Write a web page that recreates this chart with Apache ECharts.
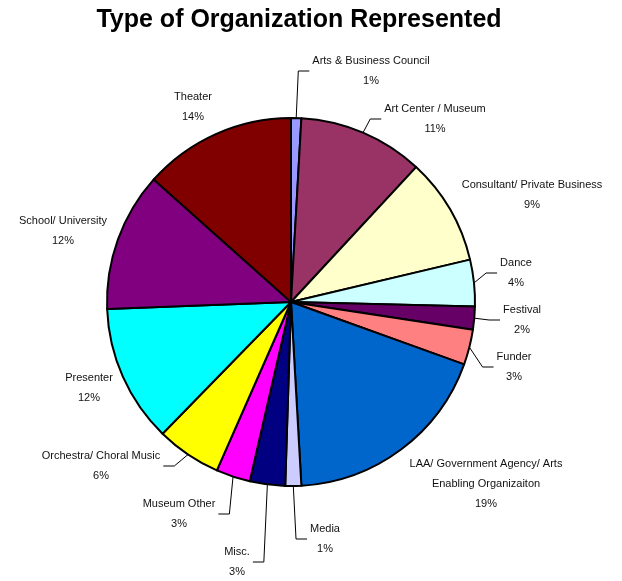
<!DOCTYPE html>
<html><head><meta charset="utf-8">
<script src="https://cdn.jsdelivr.net/npm/echarts@6/dist/echarts.min.js"></script>
<style>html,body{margin:0;padding:0;background:#fff}#c{width:622px;height:581px}</style>
</head><body><div id="c"></div>
<script>
// Categories in clockwise order starting at 12 o'clock
const categories = [
  'Arts & Business Council',
  'Art Center / Museum',
  'Consultant/ Private Business',
  'Dance',
  'Festival',
  'Funder',
  'LAA/ Government Agency/ Arts\nEnabling Organizaiton',
  'Media',
  'Misc.',
  'Museum Other',
  'Orchestra/ Choral Music',
  'Presenter',
  'School/ University',
  'Theater'
];
// Shares (percent)
const values = [0.9, 11.0, 9.4, 4.1, 2.0, 3.1, 18.6, 1.4, 3.1, 3.0, 5.7, 12.1, 12.2, 13.4];
// Percent labels as printed on the chart
const pctLabels = ['1%', '11%', '9%', '4%', '2%', '3%', '19%', '1%', '3%', '3%', '6%', '12%', '12%', '14%'];

// Styles / layout (kept separate from data)
const colors = ['#9999FF', '#993366', '#FFFFCC', '#CCFFFF', '#660066', '#FF8080', '#0066CC',
                '#CCCCFF', '#000080', '#FF00FF', '#FFFF00', '#00FFFF', '#800080', '#800000'];
const labelCenters = [[371, 71], [435, 119], [532, 195], [516, 273], [522, 320], [514, 367],
                      [486, 484], [325, 539], [237, 562], [179, 514], [101, 466], [89, 388],
                      [63, 231], [193, 107]];
const leaderSide = ['left', 'left', null, 'left', 'left', 'left', null, 'left', 'right', 'right', 'right', null, null, null];

const FONT = '"Liberation Sans", Arial, Helvetica, sans-serif';
const chart = echarts.init(document.getElementById('c'), null, {renderer: 'canvas'});
const data = categories.map((name, i) => ({
  name: name,
  value: values[i],
  itemStyle: {color: colors[i]},
  labelLine: {show: !!leaderSide[i]}
}));

chart.setOption({
  animation: false,
  backgroundColor: '#fff',
  title: {
    text: 'Type of Organization Represented',
    left: 299, top: 8, padding: 0, textAlign: 'center',
    textStyle: {fontFamily: FONT, fontSize: 25, fontWeight: 'bold', color: '#000'}
  },
  series: [{
    type: 'pie',
    center: [291, 302],
    radius: 184,
    startAngle: 90,
    clockwise: true,
    avoidLabelOverlap: false,
    emphasis: {disabled: true},
    itemStyle: {borderColor: '#000', borderWidth: 2},
    label: {
      show: true,
      position: 'outside',
      fontFamily: FONT,
      fontSize: 11,
      lineHeight: 20,
      color: '#111',
      align: 'center',
      formatter: p => p.name + '\n' + pctLabels[p.dataIndex]
    },
    labelLine: {show: true, length: 10, length2: 10, lineStyle: {color: '#000', width: 1}},
    labelLayout: function (params) {
      const i = params.dataIndex;
      const x = labelCenters[i][0], y = labelCenters[i][1];
      const w = params.labelRect.width;
      const res = {x: x, y: y, align: 'center', verticalAlign: 'middle'};
      const pts = params.labelLinePoints;
      if (pts && leaderSide[i]) {
        const ex = leaderSide[i] === 'left' ? x - w / 2 - 3 : x + w / 2 + 3;
        const mx = leaderSide[i] === 'left' ? ex - 11 : ex + 11;
        res.labelLinePoints = [pts[0], [mx, y], [ex, y]];
      }
      return res;
    },
    data: data
  }]
});
</script>
</body></html>
